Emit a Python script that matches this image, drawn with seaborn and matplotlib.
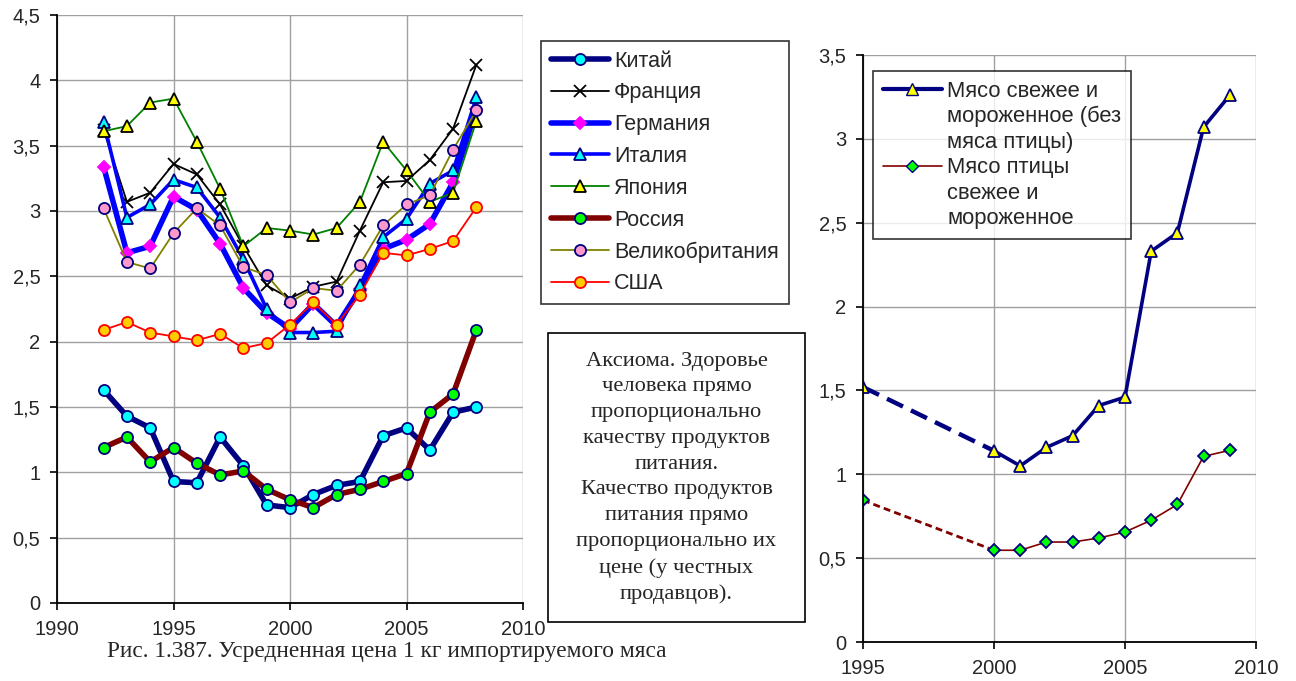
import numpy as np
import pandas as pd
import matplotlib
matplotlib.use("Agg")
import matplotlib.pyplot as plt
import matplotlib.patches as patches
from matplotlib.ticker import FuncFormatter, MultipleLocator
from matplotlib.lines import Line2D
import seaborn as sns

# годы и цены (левый график)
years = list(range(1992, 2009))
china = [1.63, 1.43, 1.34, 0.93, 0.92, 1.27, 1.05, 0.75, 0.73, 0.83, 0.90, 0.93, 1.28, 1.34, 1.17, 1.46, 1.50]
france = [3.62, 3.07, 3.14, 3.36, 3.28, 3.05, 2.73, 2.43, 2.33, 2.42, 2.46, 2.85, 3.22, 3.23, 3.39, 3.63, 4.12]
germany = [3.34, 2.68, 2.73, 3.11, 3.01, 2.75, 2.41, 2.22, 2.10, 2.29, 2.12, 2.40, 2.71, 2.78, 2.90, 3.22, 3.78]
italy = [3.68, 2.95, 3.05, 3.24, 3.18, 2.95, 2.63, 2.25, 2.07, 2.07, 2.08, 2.43, 2.80, 2.94, 3.21, 3.31, 3.87]
japan = [3.61, 3.65, 3.83, 3.86, 3.53, 3.17, 2.73, 2.87, 2.85, 2.82, 2.87, 3.07, 3.53, 3.31, 3.07, 3.14, 3.69]
russia = [1.19, 1.27, 1.08, 1.19, 1.07, 0.98, 1.01, 0.87, 0.79, 0.73, 0.83, 0.87, 0.93, 0.99, 1.46, 1.60, 2.09]
uk = [3.02, 2.61, 2.56, 2.83, 3.02, 2.89, 2.57, 2.51, 2.30, 2.41, 2.39, 2.59, 2.89, 3.05, 3.12, 3.47, 3.77]
usa = [2.09, 2.15, 2.07, 2.04, 2.01, 2.06, 1.95, 1.99, 2.13, 2.30, 2.13, 2.36, 2.68, 2.66, 2.71, 2.77, 3.03]

# правый график
years_r = [1995, 2000, 2001, 2002, 2003, 2004, 2005, 2006, 2007, 2008, 2009]
meat = [1.52, 1.14, 1.05, 1.16, 1.23, 1.41, 1.46, 2.33, 2.44, 3.07, 3.26]
poultry = [0.845, 0.547, 0.547, 0.596, 0.596, 0.62, 0.656, 0.726, 0.82, 1.107, 1.143]

sns.set_style("white")
plt.rcParams['font.family'] = ['Liberation Sans', 'DejaVu Sans']
serif = ["Liberation Serif", "DejaVu Serif"]

fig = plt.figure(figsize=(12.96, 6.81), dpi=100)
ax = fig.add_axes([57 / 1296, 1 - 603 / 681, 466 / 1296, 588 / 681])
ax2 = fig.add_axes([863 / 1296, 1 - 642 / 681, 393 / 1296, 587 / 681])

comma = FuncFormatter(lambda v, p: ('%g' % v).replace('.', ','))

# стили серий: (название, данные, цвет линии, толщина, маркер, заливка, обводка)
series = [
    ("Китай", china, "#000080", 4.0, "o", "#00FFFF", "#000080"),
    ("Франция", france, "black", 1.3, "x", "black", "black"),
    ("Германия", germany, "#0000FF", 4.0, "D", "#FF00FF", "#FF00FF"),
    ("Италия", italy, "#0000FF", 2.6, "^", "#00FFFF", "#000080"),
    ("Япония", japan, "#008000", 1.3, "^", "#FFFF00", "black"),
    ("Россия", russia, "#800000", 4.0, "o", "#00FF00", "#000080"),
    ("Великобритания", uk, "#808000", 1.3, "o", "#FF99CC", "#000080"),
    ("США", usa, "#FF0000", 1.3, "o", "#FFCC00", "#FF0000"),
]

for name, vals, col, lw, mk, fc, ec in series:
    ms = 8 if mk != "D" else 6.5
    if mk == "x":
        ms = 9
    sns.lineplot(x=years, y=vals, ax=ax, color=col, linewidth=lw, marker=mk,
                 markersize=ms, markerfacecolor=fc, markeredgecolor=ec,
                 markeredgewidth=1.3, label=name)

handles, labels = ax.get_legend_handles_labels()
ax.get_legend().remove()
leg = fig.legend(handles, labels, loc="upper left",
                 bbox_to_anchor=(541 / 1296, 1 - 41 / 681), fontsize=15.5,
                 frameon=True, fancybox=False, edgecolor="black",
                 handlelength=2.7, labelspacing=0.5, borderpad=0.45,
                 handletextpad=0.25, borderaxespad=0)
leg.get_frame().set_linewidth(1.2)

ax.set_xlim(1990, 2010)
ax.set_ylim(0, 4.5)
ax.xaxis.set_major_locator(MultipleLocator(5))
ax.yaxis.set_major_locator(MultipleLocator(0.5))
ax.yaxis.set_major_formatter(comma)

# правый график: пунктир 1995-2000, сплошная линия дальше
sns.lineplot(x=years_r[:2], y=meat[:2], ax=ax2, color="#000080", linewidth=3.2,
             linestyle=(0, (4, 2)))
sns.lineplot(x=years_r[1:], y=meat[1:], ax=ax2, color="#000080", linewidth=2.6)
sns.lineplot(x=years_r[:2], y=poultry[:2], ax=ax2, color="#800000", linewidth=2.0,
             linestyle=(0, (2.5, 1.5)))
sns.lineplot(x=years_r[1:], y=poultry[1:], ax=ax2, color="#800000", linewidth=1.2)
ax2.plot(years_r, meat, linestyle="none", marker="^", markersize=9,
         markerfacecolor="#FFFF00", markeredgecolor="#000080", markeredgewidth=1.3)
ax2.plot(years_r, poultry, linestyle="none", marker="D", markersize=6.5,
         markerfacecolor="#00FF00", markeredgecolor="#000080", markeredgewidth=1.3)

ax2.set_xlim(1995, 2010)
ax2.set_ylim(0, 3.5)
ax2.xaxis.set_major_locator(MultipleLocator(5))
ax2.yaxis.set_major_locator(MultipleLocator(0.5))
ax2.yaxis.set_major_formatter(comma)

h1 = Line2D([], [], color="#000080", linewidth=3.0, marker="^", markersize=9,
            markerfacecolor="#FFFF00", markeredgecolor="#000080")
h2 = Line2D([], [], color="#800000", linewidth=1.2, marker="D", markersize=6.5,
            markerfacecolor="#00FF00", markeredgecolor="#000080")
blank = Line2D([], [], color="none")
leg2 = ax2.legend([h1, blank, blank, h2, blank, blank],
                  ["Мясо свежее и", "мороженное (без", "мяса птицы)",
                   "Мясо птицы", "свежее и", "мороженное"],
                  loc="upper left", bbox_to_anchor=(0.025, 0.973), fontsize=15.8,
                  frameon=True, fancybox=False, edgecolor="black",
                  handlelength=2.7, labelspacing=0.2, borderpad=0.45,
                  handletextpad=0.25, borderaxespad=0)
leg2.get_frame().set_linewidth(1.2)

for a in (ax, ax2):
    a.grid(True, color="#A0A0A0", linewidth=1.0)
    a.set_axisbelow(True)
    a.set_xlabel("")
    a.set_ylabel("")
    for s in ("top", "right"):
        a.spines[s].set_visible(False)
    for s in ("left", "bottom"):
        a.spines[s].set_color("black")
        a.spines[s].set_linewidth(1.3)
    a.tick_params(axis="both", direction="out", length=5, width=1.2,
                  color="black", labelsize=14.5, pad=7,
                  left=True, bottom=True)
    for s in a.get_xticklabels() + a.get_yticklabels():
        s.set_clip_on(False)

# текстовая вставка
fig.patches.append(patches.Rectangle((548 / 1296, 1 - 622 / 681), 257 / 1296, 289 / 681,
                                     transform=fig.transFigure, facecolor="white",
                                     edgecolor="black", linewidth=1.2))
fig.text(676.5 / 1296, 1 - 478 / 681,
         "Аксиома. Здоровье\nчеловека прямо\nпропорционально\nкачеству продуктов\n"
         "питания.\nКачество продуктов\nпитания прямо\nпропорционально их\n"
         "цене (у честных\nпродавцов).",
         ha="center", va="center", fontsize=16.2, linespacing=1.48, family=serif)

fig.text(107 / 1296, 1 - 652 / 681,
         "Рис. 1.387. Усредненная цена 1 кг импортируемого мяса",
         ha="left", va="center", fontsize=16.8, family=serif)

fig.savefig("out.png", dpi=100)
